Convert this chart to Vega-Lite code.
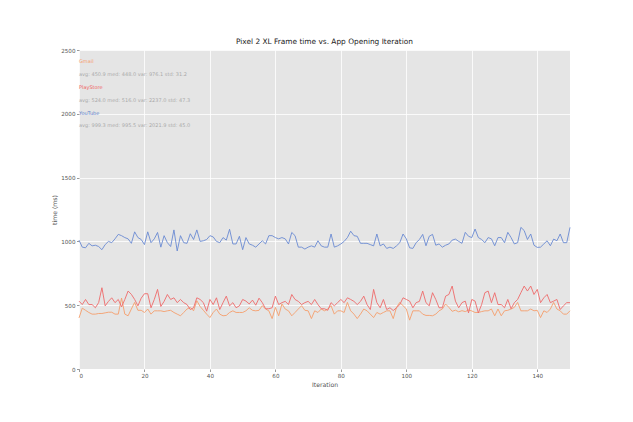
{
  "$schema": "https://vega.github.io/schema/vega-lite/v6.json",
  "autosize": {"type": "none"},
  "padding": {"left": 79, "top": 50, "right": 63, "bottom": 53},
  "width": 491,
  "height": 319,
  "background": "white",
  "config": {
    "font": "DejaVu Sans",
    "view": {"fill": "#E5E5E5", "stroke": null},
    "axis": {
      "domain": false,
      "gridColor": "white",
      "gridWidth": 0.8,
      "tickColor": "#555555",
      "tickSize": 2.5,
      "tickWidth": 0.6,
      "labelColor": "#555555",
      "labelFontSize": 5.6,
      "labelPadding": 1.5,
      "titleColor": "#555555",
      "titleFontSize": 6.2,
      "titleFontWeight": "normal",
      "titlePadding": 3
    }
  },
  "title": {
    "text": "Pixel 2 XL Frame time vs. App Opening Iteration",
    "fontSize": 7.4,
    "fontWeight": "normal",
    "color": "#222222",
    "offset": 2.5
  },
  "datasets": {
    "notes": [
      {"app": "Gmail", "summary": "avg: 450.9 med: 448.0 var: 976.1 std: 31.2"},
      {"app": "PlayStore", "summary": "avg: 524.0 med: 516.0 var: 2237.0 std: 47.3"},
      {"app": "YouTube", "summary": "avg: 999.3 med: 995.5 var: 2021.9 std: 45.0"}
    ],
    "frames": [
      {"iteration": 0, "Gmail": 400, "PlayStore": 532, "YouTube": 1010},
      {"iteration": 1, "Gmail": 477, "PlayStore": 505, "YouTube": 955},
      {"iteration": 2, "Gmail": 460, "PlayStore": 545, "YouTube": 950},
      {"iteration": 3, "Gmail": 443, "PlayStore": 505, "YouTube": 985},
      {"iteration": 4, "Gmail": 430, "PlayStore": 505, "YouTube": 965},
      {"iteration": 5, "Gmail": 430, "PlayStore": 480, "YouTube": 970},
      {"iteration": 6, "Gmail": 435, "PlayStore": 520, "YouTube": 960},
      {"iteration": 7, "Gmail": 435, "PlayStore": 637, "YouTube": 935},
      {"iteration": 8, "Gmail": 440, "PlayStore": 495, "YouTube": 975},
      {"iteration": 9, "Gmail": 445, "PlayStore": 530, "YouTube": 1000},
      {"iteration": 10, "Gmail": 445, "PlayStore": 558, "YouTube": 990},
      {"iteration": 11, "Gmail": 430, "PlayStore": 520, "YouTube": 1020},
      {"iteration": 12, "Gmail": 430, "PlayStore": 545, "YouTube": 1055},
      {"iteration": 13, "Gmail": 556, "PlayStore": 487, "YouTube": 1045},
      {"iteration": 14, "Gmail": 430, "PlayStore": 545, "YouTube": 1030},
      {"iteration": 15, "Gmail": 417, "PlayStore": 611, "YouTube": 1020},
      {"iteration": 16, "Gmail": 470, "PlayStore": 585, "YouTube": 985},
      {"iteration": 17, "Gmail": 522, "PlayStore": 545, "YouTube": 1075},
      {"iteration": 18, "Gmail": 460, "PlayStore": 495, "YouTube": 1030},
      {"iteration": 19, "Gmail": 460, "PlayStore": 555, "YouTube": 1015},
      {"iteration": 20, "Gmail": 443, "PlayStore": 590, "YouTube": 975},
      {"iteration": 21, "Gmail": 470, "PlayStore": 590, "YouTube": 1075},
      {"iteration": 22, "Gmail": 430, "PlayStore": 480, "YouTube": 990},
      {"iteration": 23, "Gmail": 456, "PlayStore": 545, "YouTube": 1020},
      {"iteration": 24, "Gmail": 456, "PlayStore": 624, "YouTube": 1070},
      {"iteration": 25, "Gmail": 456, "PlayStore": 490, "YouTube": 955},
      {"iteration": 26, "Gmail": 450, "PlayStore": 530, "YouTube": 1045},
      {"iteration": 27, "Gmail": 456, "PlayStore": 584, "YouTube": 990},
      {"iteration": 28, "Gmail": 460, "PlayStore": 545, "YouTube": 960},
      {"iteration": 29, "Gmail": 443, "PlayStore": 558, "YouTube": 1090},
      {"iteration": 30, "Gmail": 430, "PlayStore": 520, "YouTube": 925},
      {"iteration": 31, "Gmail": 417, "PlayStore": 545, "YouTube": 1045},
      {"iteration": 32, "Gmail": 443, "PlayStore": 520, "YouTube": 990},
      {"iteration": 33, "Gmail": 470, "PlayStore": 505, "YouTube": 985},
      {"iteration": 34, "Gmail": 483, "PlayStore": 466, "YouTube": 1060},
      {"iteration": 35, "Gmail": 456, "PlayStore": 480, "YouTube": 1015},
      {"iteration": 36, "Gmail": 535, "PlayStore": 558, "YouTube": 1090},
      {"iteration": 37, "Gmail": 490, "PlayStore": 545, "YouTube": 1000},
      {"iteration": 38, "Gmail": 460, "PlayStore": 520, "YouTube": 1005},
      {"iteration": 39, "Gmail": 430, "PlayStore": 453, "YouTube": 1015},
      {"iteration": 40, "Gmail": 403, "PlayStore": 545, "YouTube": 1045},
      {"iteration": 41, "Gmail": 443, "PlayStore": 505, "YouTube": 1035},
      {"iteration": 42, "Gmail": 470, "PlayStore": 558, "YouTube": 1000},
      {"iteration": 43, "Gmail": 430, "PlayStore": 466, "YouTube": 990},
      {"iteration": 44, "Gmail": 417, "PlayStore": 520, "YouTube": 1030},
      {"iteration": 45, "Gmail": 420, "PlayStore": 571, "YouTube": 1010},
      {"iteration": 46, "Gmail": 443, "PlayStore": 495, "YouTube": 1095},
      {"iteration": 47, "Gmail": 456, "PlayStore": 520, "YouTube": 980},
      {"iteration": 48, "Gmail": 443, "PlayStore": 480, "YouTube": 980},
      {"iteration": 49, "Gmail": 443, "PlayStore": 495, "YouTube": 1040},
      {"iteration": 50, "Gmail": 443, "PlayStore": 545, "YouTube": 935},
      {"iteration": 51, "Gmail": 456, "PlayStore": 532, "YouTube": 1030},
      {"iteration": 52, "Gmail": 480, "PlayStore": 510, "YouTube": 980},
      {"iteration": 53, "Gmail": 460, "PlayStore": 540, "YouTube": 970},
      {"iteration": 54, "Gmail": 456, "PlayStore": 500, "YouTube": 955},
      {"iteration": 55, "Gmail": 460, "PlayStore": 555, "YouTube": 980},
      {"iteration": 56, "Gmail": 496, "PlayStore": 520, "YouTube": 1005},
      {"iteration": 57, "Gmail": 470, "PlayStore": 472, "YouTube": 980},
      {"iteration": 58, "Gmail": 456, "PlayStore": 472, "YouTube": 1045},
      {"iteration": 59, "Gmail": 395, "PlayStore": 480, "YouTube": 1045},
      {"iteration": 60, "Gmail": 483, "PlayStore": 571, "YouTube": 1030},
      {"iteration": 61, "Gmail": 417, "PlayStore": 505, "YouTube": 1020},
      {"iteration": 62, "Gmail": 510, "PlayStore": 520, "YouTube": 1030},
      {"iteration": 63, "Gmail": 470, "PlayStore": 530, "YouTube": 1020},
      {"iteration": 64, "Gmail": 456, "PlayStore": 505, "YouTube": 980},
      {"iteration": 65, "Gmail": 417, "PlayStore": 584, "YouTube": 1070},
      {"iteration": 66, "Gmail": 443, "PlayStore": 545, "YouTube": 1045},
      {"iteration": 67, "Gmail": 470, "PlayStore": 530, "YouTube": 955},
      {"iteration": 68, "Gmail": 496, "PlayStore": 505, "YouTube": 955},
      {"iteration": 69, "Gmail": 460, "PlayStore": 520, "YouTube": 940},
      {"iteration": 70, "Gmail": 456, "PlayStore": 530, "YouTube": 955},
      {"iteration": 71, "Gmail": 395, "PlayStore": 505, "YouTube": 965},
      {"iteration": 72, "Gmail": 456, "PlayStore": 545, "YouTube": 955},
      {"iteration": 73, "Gmail": 443, "PlayStore": 505, "YouTube": 1005},
      {"iteration": 74, "Gmail": 470, "PlayStore": 472, "YouTube": 965},
      {"iteration": 75, "Gmail": 456, "PlayStore": 472, "YouTube": 955},
      {"iteration": 76, "Gmail": 470, "PlayStore": 460, "YouTube": 955},
      {"iteration": 77, "Gmail": 496, "PlayStore": 520, "YouTube": 1058},
      {"iteration": 78, "Gmail": 430, "PlayStore": 495, "YouTube": 955},
      {"iteration": 79, "Gmail": 456, "PlayStore": 520, "YouTube": 965},
      {"iteration": 80, "Gmail": 456, "PlayStore": 545, "YouTube": 980},
      {"iteration": 81, "Gmail": 443, "PlayStore": 520, "YouTube": 1000},
      {"iteration": 82, "Gmail": 522, "PlayStore": 558, "YouTube": 1030},
      {"iteration": 83, "Gmail": 456, "PlayStore": 545, "YouTube": 1080},
      {"iteration": 84, "Gmail": 430, "PlayStore": 530, "YouTube": 1045},
      {"iteration": 85, "Gmail": 395, "PlayStore": 505, "YouTube": 1040},
      {"iteration": 86, "Gmail": 430, "PlayStore": 530, "YouTube": 985},
      {"iteration": 87, "Gmail": 470, "PlayStore": 571, "YouTube": 985},
      {"iteration": 88, "Gmail": 456, "PlayStore": 505, "YouTube": 985},
      {"iteration": 89, "Gmail": 430, "PlayStore": 466, "YouTube": 975},
      {"iteration": 90, "Gmail": 403, "PlayStore": 624, "YouTube": 965},
      {"iteration": 91, "Gmail": 443, "PlayStore": 520, "YouTube": 1058},
      {"iteration": 92, "Gmail": 430, "PlayStore": 480, "YouTube": 965},
      {"iteration": 93, "Gmail": 443, "PlayStore": 545, "YouTube": 980},
      {"iteration": 94, "Gmail": 456, "PlayStore": 466, "YouTube": 945},
      {"iteration": 95, "Gmail": 456, "PlayStore": 480, "YouTube": 955},
      {"iteration": 96, "Gmail": 395, "PlayStore": 458, "YouTube": 945},
      {"iteration": 97, "Gmail": 483, "PlayStore": 480, "YouTube": 965},
      {"iteration": 98, "Gmail": 522, "PlayStore": 505, "YouTube": 990},
      {"iteration": 99, "Gmail": 496, "PlayStore": 558, "YouTube": 1058},
      {"iteration": 100, "Gmail": 470, "PlayStore": 545, "YouTube": 1020},
      {"iteration": 101, "Gmail": 383, "PlayStore": 532, "YouTube": 950},
      {"iteration": 102, "Gmail": 456, "PlayStore": 480, "YouTube": 945},
      {"iteration": 103, "Gmail": 456, "PlayStore": 520, "YouTube": 990},
      {"iteration": 104, "Gmail": 456, "PlayStore": 530, "YouTube": 1015},
      {"iteration": 105, "Gmail": 430, "PlayStore": 611, "YouTube": 1055},
      {"iteration": 106, "Gmail": 420, "PlayStore": 520, "YouTube": 966},
      {"iteration": 107, "Gmail": 420, "PlayStore": 495, "YouTube": 1040},
      {"iteration": 108, "Gmail": 417, "PlayStore": 598, "YouTube": 1055},
      {"iteration": 109, "Gmail": 430, "PlayStore": 545, "YouTube": 970},
      {"iteration": 110, "Gmail": 456, "PlayStore": 480, "YouTube": 980},
      {"iteration": 111, "Gmail": 470, "PlayStore": 480, "YouTube": 955},
      {"iteration": 112, "Gmail": 509, "PlayStore": 571, "YouTube": 970},
      {"iteration": 113, "Gmail": 483, "PlayStore": 584, "YouTube": 980},
      {"iteration": 114, "Gmail": 452, "PlayStore": 650, "YouTube": 1010},
      {"iteration": 115, "Gmail": 461, "PlayStore": 532, "YouTube": 1018},
      {"iteration": 116, "Gmail": 448, "PlayStore": 480, "YouTube": 1000},
      {"iteration": 117, "Gmail": 457, "PlayStore": 520, "YouTube": 985},
      {"iteration": 118, "Gmail": 450, "PlayStore": 532, "YouTube": 1071},
      {"iteration": 119, "Gmail": 462, "PlayStore": 440, "YouTube": 1040},
      {"iteration": 120, "Gmail": 455, "PlayStore": 545, "YouTube": 1030},
      {"iteration": 121, "Gmail": 443, "PlayStore": 532, "YouTube": 1097},
      {"iteration": 122, "Gmail": 443, "PlayStore": 440, "YouTube": 1030},
      {"iteration": 123, "Gmail": 450, "PlayStore": 505, "YouTube": 1015},
      {"iteration": 124, "Gmail": 456, "PlayStore": 598, "YouTube": 990},
      {"iteration": 125, "Gmail": 456, "PlayStore": 611, "YouTube": 1030},
      {"iteration": 126, "Gmail": 470, "PlayStore": 520, "YouTube": 1020},
      {"iteration": 127, "Gmail": 417, "PlayStore": 598, "YouTube": 966},
      {"iteration": 128, "Gmail": 470, "PlayStore": 505, "YouTube": 1030},
      {"iteration": 129, "Gmail": 417, "PlayStore": 505, "YouTube": 1030},
      {"iteration": 130, "Gmail": 456, "PlayStore": 480, "YouTube": 990},
      {"iteration": 131, "Gmail": 460, "PlayStore": 545, "YouTube": 1071},
      {"iteration": 132, "Gmail": 470, "PlayStore": 472, "YouTube": 1030},
      {"iteration": 133, "Gmail": 483, "PlayStore": 520, "YouTube": 980},
      {"iteration": 134, "Gmail": 522, "PlayStore": 545, "YouTube": 990},
      {"iteration": 135, "Gmail": 456, "PlayStore": 598, "YouTube": 1110},
      {"iteration": 136, "Gmail": 456, "PlayStore": 650, "YouTube": 1085},
      {"iteration": 137, "Gmail": 456, "PlayStore": 611, "YouTube": 1015},
      {"iteration": 138, "Gmail": 470, "PlayStore": 650, "YouTube": 1058},
      {"iteration": 139, "Gmail": 456, "PlayStore": 584, "YouTube": 970},
      {"iteration": 140, "Gmail": 460, "PlayStore": 624, "YouTube": 953},
      {"iteration": 141, "Gmail": 403, "PlayStore": 520, "YouTube": 955},
      {"iteration": 142, "Gmail": 456, "PlayStore": 558, "YouTube": 980},
      {"iteration": 143, "Gmail": 443, "PlayStore": 584, "YouTube": 1005},
      {"iteration": 144, "Gmail": 470, "PlayStore": 520, "YouTube": 966},
      {"iteration": 145, "Gmail": 522, "PlayStore": 532, "YouTube": 1018},
      {"iteration": 146, "Gmail": 470, "PlayStore": 545, "YouTube": 1005},
      {"iteration": 147, "Gmail": 456, "PlayStore": 466, "YouTube": 1058},
      {"iteration": 148, "Gmail": 430, "PlayStore": 495, "YouTube": 990},
      {"iteration": 149, "Gmail": 430, "PlayStore": 520, "YouTube": 990},
      {"iteration": 150, "Gmail": 456, "PlayStore": 520, "YouTube": 1110}
    ]
  },
  "layer": [
    {
      "data": {"name": "frames"},
      "transform": [{"fold": ["Gmail", "PlayStore", "YouTube"], "as": ["app", "time"]}],
      "mark": {"type": "line", "strokeWidth": 0.9},
      "encoding": {
        "x": {
          "field": "iteration",
          "type": "quantitative",
          "title": "Iteration",
          "scale": {"domain": [0, 150], "nice": false},
          "axis": {"values": [0, 20, 40, 60, 80, 100, 120, 140], "format": "d"}
        },
        "y": {
          "field": "time",
          "type": "quantitative",
          "title": "time (ms)",
          "scale": {"domain": [0, 2500], "nice": false},
          "axis": {"values": [0, 500, 1000, 1500, 2000, 2500], "format": "d"}
        },
        "color": {
          "field": "app",
          "type": "nominal",
          "scale": {"domain": ["Gmail", "PlayStore", "YouTube"], "range": ["#F59E6C", "#EE6A6A", "#6A8AD2"]},
          "legend": null
        }
      }
    },
    {
      "data": {"name": "notes"},
      "transform": [{"filter": {"field": "app", "equal": "Gmail"}}],
      "mark": {"type": "text", "align": "left", "baseline": "middle", "fontSize": 5, "color": "#F5A06E"},
      "encoding": {"x": {"datum": 0}, "y": {"datum": 2410}, "text": {"field": "app"}}
    },
    {
      "data": {"name": "notes"},
      "transform": [{"filter": {"field": "app", "equal": "Gmail"}}],
      "mark": {"type": "text", "align": "left", "baseline": "middle", "fontSize": 5, "color": "#AAAAAA"},
      "encoding": {"x": {"datum": 0}, "y": {"datum": 2310}, "text": {"field": "summary"}}
    },
    {
      "data": {"name": "notes"},
      "transform": [{"filter": {"field": "app", "equal": "PlayStore"}}],
      "mark": {"type": "text", "align": "left", "baseline": "middle", "fontSize": 5, "color": "#EF5F5F"},
      "encoding": {"x": {"datum": 0}, "y": {"datum": 2210}, "text": {"field": "app"}}
    },
    {
      "data": {"name": "notes"},
      "transform": [{"filter": {"field": "app", "equal": "PlayStore"}}],
      "mark": {"type": "text", "align": "left", "baseline": "middle", "fontSize": 5, "color": "#AAAAAA"},
      "encoding": {"x": {"datum": 0}, "y": {"datum": 2110}, "text": {"field": "summary"}}
    },
    {
      "data": {"name": "notes"},
      "transform": [{"filter": {"field": "app", "equal": "YouTube"}}],
      "mark": {"type": "text", "align": "left", "baseline": "middle", "fontSize": 5, "color": "#5B7EC9"},
      "encoding": {"x": {"datum": 0}, "y": {"datum": 2010}, "text": {"field": "app"}}
    },
    {
      "data": {"name": "notes"},
      "transform": [{"filter": {"field": "app", "equal": "YouTube"}}],
      "mark": {"type": "text", "align": "left", "baseline": "middle", "fontSize": 5, "color": "#AAAAAA"},
      "encoding": {"x": {"datum": 0}, "y": {"datum": 1910}, "text": {"field": "summary"}}
    }
  ]
}
